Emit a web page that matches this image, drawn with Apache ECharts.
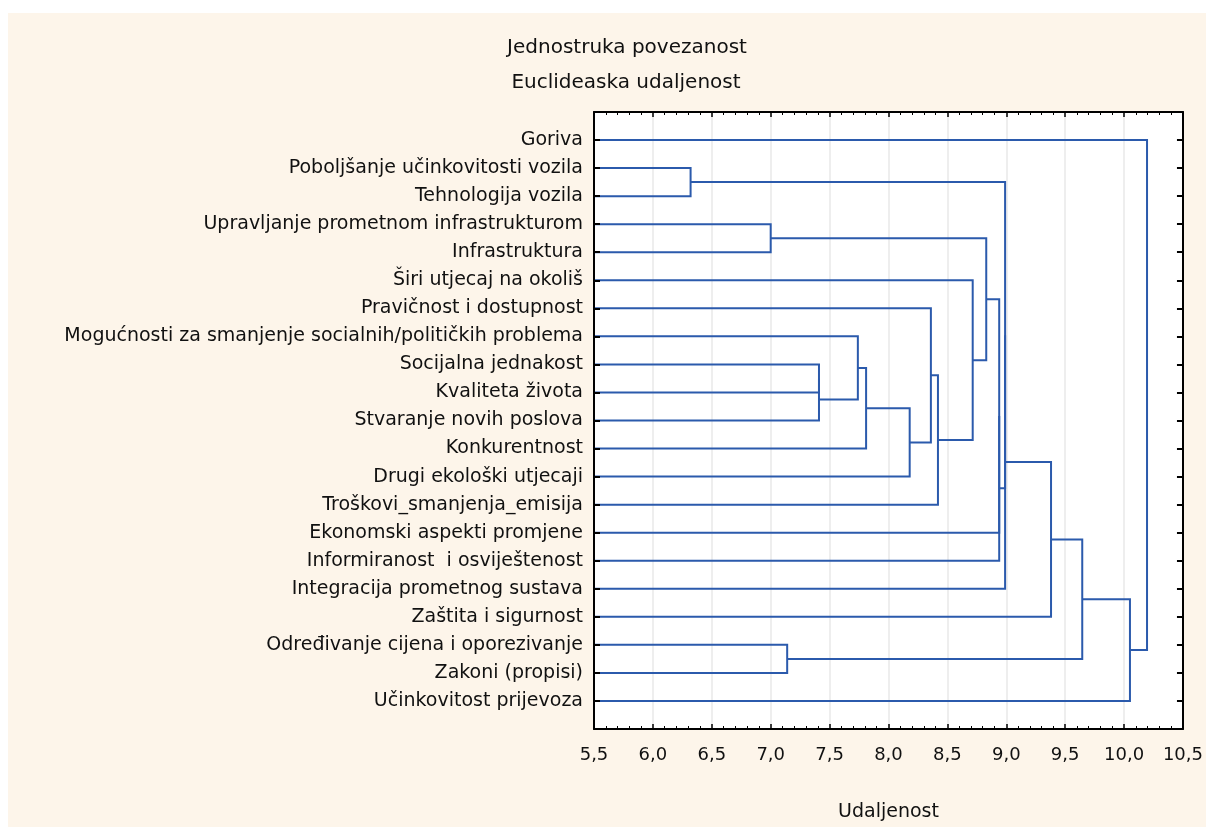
<!DOCTYPE html>
<html>
<head>
<meta charset="utf-8">
<script src="https://cdn.jsdelivr.net/npm/echarts@6/dist/echarts.min.js"></script>
<style>
  html, body { margin:0; padding:0; background:#ffffff; }
  #bg { position:absolute; left:8px; top:13px; width:1198px; height:814px; background:#FDF5EA; }
  #main { position:absolute; left:0; top:0; width:1206px; height:827px; }
</style>
</head>
<body>
<div id="bg"></div>
<div id="main"></div>
<script>
// Leaf labels, top to bottom
const leafLabels = [
  'Goriva',
  'Poboljšanje učinkovitosti vozila',
  'Tehnologija vozila',
  'Upravljanje prometnom infrastrukturom',
  'Infrastruktura',
  'Širi utjecaj na okoliš',
  'Pravičnost i dostupnost',
  'Mogućnosti za smanjenje socialnih/političkih problema',
  'Socijalna jednakost',
  'Kvaliteta života',
  'Stvaranje novih poslova',
  'Konkurentnost',
  'Drugi ekološki utjecaji',
  'Troškovi_smanjenja_emisija',
  'Ekonomski aspekti promjene',
  'Informiranost  i osviještenost',
  'Integracija prometnog sustava',
  'Zaštita i sigurnost',
  'Određivanje cijena i oporezivanje',
  'Zakoni (propisi)',
  'Učinkovitost prijevoza'
];
// Linkage: merge k joins mergeLeft[k] and mergeRight[k] (ids < 21 are leaves, id 21+k is merge k)
const mergeLeft   = [1, 3, 18, 8, 24, 7, 26, 27, 6, 29, 5, 22, 32, 33, 21, 35, 36, 37, 38, 0];
const mergeRight  = [2, 4, 19, 9, 10, 25, 11, 12, 28, 13, 30, 31, 14, 15, 34, 16, 17, 23, 20, 39];
const mergeHeight = [6.32, 7.00, 7.14, 7.41, 7.41, 7.74, 7.81, 8.18, 8.36, 8.42, 8.715, 8.83, 8.94, 8.94, 8.99, 8.99, 9.38, 9.645, 10.05, 10.195];
// Axis ticks
const xMin = 5.5, xMax = 10.5, xStep = 0.5;

const n = leafLabels.length;
const nodeX = [], nodeY = [];
for (let i = 0; i < n; i++) { nodeX.push(xMin); nodeY.push(i); }
const segData = [];
for (let k = 0; k < mergeHeight.length; k++) {
  const a = mergeLeft[k], b = mergeRight[k], h = mergeHeight[k];
  segData.push([nodeX[a], nodeY[a], h, nodeY[b], nodeX[b]]);
  nodeX.push(h);
  nodeY.push((nodeY[a] + nodeY[b]) / 2);
}

const FONT = 'DejaVu Sans';
const chart = echarts.init(document.getElementById('main'));
chart.setOption({
  backgroundColor: 'transparent',
  animation: false,
  graphic: [
    { type: 'text', x: 627, y: 48, style: { text: 'Jednostruka povezanost', font: '20px "' + FONT + '"', fill: '#111', align: 'center', verticalAlign: 'middle' } },
    { type: 'text', x: 626, y: 83, style: { text: 'Euclideaska udaljenost', font: '20px "' + FONT + '"', fill: '#111', align: 'center', verticalAlign: 'middle' } }
  ],
  grid: { left: 594, right: 21, top: 112, bottom: 93, show: true, backgroundColor: '#ffffff', borderWidth: 0 },
  xAxis: [
    {
      type: 'value', min: xMin, max: xMax, interval: xStep, position: 'bottom',
      name: 'Udaljenost', nameLocation: 'middle', nameGap: 74,
      nameTextStyle: { fontSize: 19, fontFamily: FONT, color: '#111' },
      axisLine: { show: true, onZero: false, lineStyle: { color: '#000', width: 2 } },
      axisTick: { show: true, inside: true, length: 5, lineStyle: { color: '#000', width: 1.5 } },
      minorTick: { show: true, splitNumber: 5, length: 3, lineStyle: { color: '#000', width: 1 } },
      axisLabel: { margin: 17, fontSize: 18, fontFamily: FONT, color: '#111',
        formatter: v => v.toFixed(1).replace('.', ',') },
      splitLine: { show: true, lineStyle: { color: '#E9E9E9', width: 1.5 } }
    },
    {
      type: 'value', min: xMin, max: xMax, interval: xStep, position: 'top',
      axisLine: { show: true, onZero: false, lineStyle: { color: '#000', width: 2 } },
      axisTick: { show: true, inside: true, length: 5, lineStyle: { color: '#000', width: 1.5 } },
      minorTick: { show: true, splitNumber: 5, length: 3, lineStyle: { color: '#000', width: 1 } },
      axisLabel: { show: false },
      splitLine: { show: false }
    }
  ],
  yAxis: [
    {
      type: 'value', min: -1, max: n, interval: 1, inverse: true, position: 'left', z: 5,
      axisLine: { show: true, onZero: false, lineStyle: { color: '#000', width: 2 } },
      axisTick: { show: true, inside: true, length: 6, lineStyle: { color: '#000', width: 2 } },
      axisLabel: { margin: 11, fontSize: 19, fontFamily: FONT, color: '#111',
        formatter: v => (v >= 0 && v < n) ? leafLabels[v] : '' },
      splitLine: { show: false }
    },
    {
      type: 'value', min: -1, max: n, interval: 1, inverse: true, position: 'right', z: 5,
      axisLine: { show: true, onZero: false, lineStyle: { color: '#000', width: 2 } },
      axisTick: { show: true, inside: true, length: 6, lineStyle: { color: '#000', width: 2 } },
      axisLabel: { show: false },
      splitLine: { show: false }
    }
  ],
  series: [{
    type: 'custom',
    xAxisIndex: 0, yAxisIndex: 0,
    data: segData,
    renderItem: function (params, api) {
      const x0 = api.value(0), y0 = api.value(1), h = api.value(2), y1 = api.value(3), x1 = api.value(4);
      const pts = [api.coord([x0, y0]), api.coord([h, y0]), api.coord([h, y1]), api.coord([x1, y1])];
      return { type: 'polyline', shape: { points: pts }, style: { stroke: '#2B5AAC', lineWidth: 2, fill: null } };
    }
  }]
});
</script>
</body>
</html>
